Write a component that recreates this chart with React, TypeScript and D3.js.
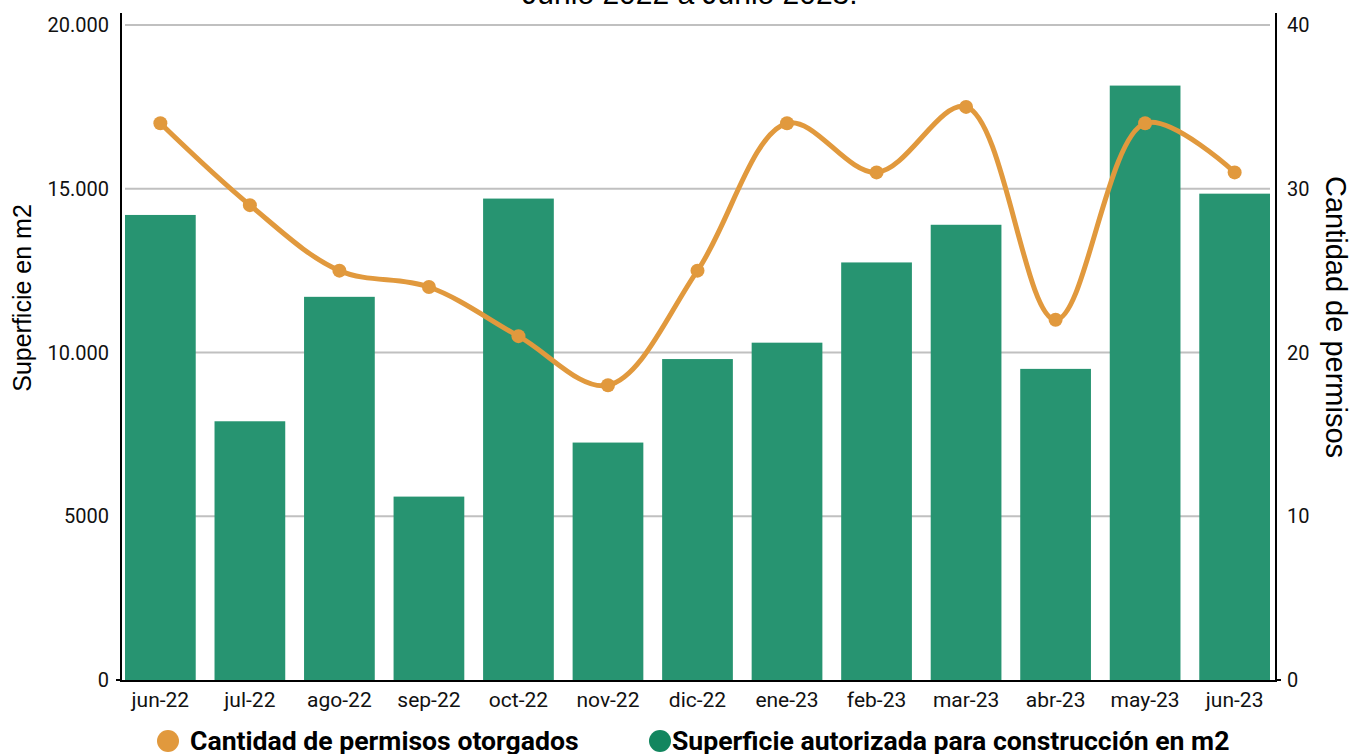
import * as d3 from 'd3'
import { useEffect, useRef } from 'react'

const months = ['jun-22', 'jul-22', 'ago-22', 'sep-22', 'oct-22', 'nov-22', 'dic-22', 'ene-23', 'feb-23', 'mar-23', 'abr-23', 'may-23', 'jun-23']
const superficie = [14200, 7900, 11700, 5600, 14700, 7250, 9800, 10300, 12750, 13900, 9500, 18150, 14850]
const permisos = [34, 29, 25, 24, 21, 18, 25, 34, 31, 35, 22, 34, 31]
const leftTicks = [0, 5000, 10000, 15000, 20000]
const leftTickLabels = ['0', '5000', '10.000', '15.000', '20.000']
const rightTicks = [0, 10, 20, 30, 40]

const GREEN = '#279471'
const ORANGE = '#E1993D'
const FONT = 'Roboto, sans-serif'
const ARIAL = '"Liberation Sans", Arial, sans-serif'

export default function App() {
  const ref = useRef<SVGSVGElement>(null)
  useEffect(() => {
    const width = 1362, height = 754
    const svg = d3.select(ref.current)
    svg.selectAll('*').remove()
    const left = 121, right = 1276, top = 25, bottom = 680

    const x = d3.scaleBand().domain(months).range([125, 1270]).paddingInner(0.21).paddingOuter(0)
    const yL = d3.scaleLinear().domain([0, 20000]).range([bottom, top])
    const yR = d3.scaleLinear().domain([0, 40]).range([bottom, top])

    // title (cut off at top, as in the source)
    svg.append('text').attr('x', 690).attr('y', 4).attr('text-anchor', 'middle')
      .attr('font-family', ARIAL).attr('font-size', 30).text('Junio 2022 a Junio 2023.')

    // grid
    svg.append('g').selectAll('line').data(leftTicks.slice(1)).enter().append('line')
      .attr('x1', left + 4).attr('x2', right - 6)
      .attr('y1', d => yL(d)).attr('y2', d => yL(d))
      .attr('stroke', '#c0c0c0').attr('stroke-width', 2)

    // bars
    svg.append('g').selectAll('rect').data(superficie).enter().append('rect')
      .attr('x', (d, i) => x(months[i]) as number).attr('width', x.bandwidth())
      .attr('y', d => yL(d)).attr('height', d => bottom - yL(d))
      .attr('fill', GREEN)

    // axes lines
    svg.append('line').attr('x1', left).attr('x2', left).attr('y1', 13).attr('y2', bottom + 2).attr('stroke', '#000').attr('stroke-width', 2)
    svg.append('line').attr('x1', right).attr('x2', right).attr('y1', 13).attr('y2', bottom + 2).attr('stroke', '#000').attr('stroke-width', 2)
    svg.append('line').attr('x1', left).attr('x2', right).attr('y1', bottom + 1).attr('y2', bottom + 1).attr('stroke', '#000').attr('stroke-width', 2)
    svg.append('line').attr('x1', left - 5).attr('x2', left).attr('y1', bottom).attr('y2', bottom).attr('stroke', '#000').attr('stroke-width', 2)
    svg.append('line').attr('x1', right).attr('x2', right + 5).attr('y1', bottom).attr('y2', bottom).attr('stroke', '#000').attr('stroke-width', 2)

    // left tick labels
    svg.append('g').selectAll('text').data(leftTicks).enter().append('text')
      .attr('x', 109).attr('y', d => yL(d)).attr('dy', '0.35em').attr('text-anchor', 'end')
      .attr('font-family', FONT).attr('font-size', 20).attr('fill', '#111')
      .text((d, i) => leftTickLabels[i])

    // right tick labels
    svg.append('g').selectAll('text').data(rightTicks).enter().append('text')
      .attr('x', 1287).attr('y', d => yR(d)).attr('dy', '0.35em').attr('text-anchor', 'start')
      .attr('font-family', FONT).attr('font-size', 20).attr('fill', '#111')
      .text(d => String(d))

    // x labels
    svg.append('g').selectAll('text').data(months).enter().append('text')
      .attr('x', d => (x(d) as number) + x.bandwidth() / 2).attr('y', 707).attr('text-anchor', 'middle')
      .attr('font-family', FONT).attr('font-size', 21).attr('fill', '#111')
      .text(d => d)

    // axis titles
    svg.append('text').attr('transform', 'translate(31,298) rotate(-90)').attr('text-anchor', 'middle')
      .attr('font-family', ARIAL).attr('font-size', 25).text('Superficie en m2')
    svg.append('text').attr('transform', 'translate(1326,317) rotate(90)').attr('text-anchor', 'middle')
      .attr('font-family', ARIAL).attr('font-size', 29).text('Cantidad de permisos')

    // line
    const cx = (i: number) => (x(months[i]) as number) + x.bandwidth() / 2
    const line = d3.line<number>().x((d, i) => cx(i)).y(d => yR(d)).curve(d3.curveCatmullRom.alpha(0.5))
    svg.append('path').datum(permisos).attr('d', line).attr('fill', 'none')
      .attr('stroke', ORANGE).attr('stroke-width', 5)
    svg.append('g').selectAll('circle').data(permisos).enter().append('circle')
      .attr('cx', (d, i) => cx(i)).attr('cy', d => yR(d)).attr('r', 7).attr('fill', ORANGE)

    // legend
    const lg = svg.append('g').attr('font-family', FONT).attr('font-weight', 'bold').attr('font-size', 26.6)
    lg.append('circle').attr('cx', 168).attr('cy', 741).attr('r', 11).attr('fill', ORANGE)
    lg.append('text').attr('x', 190).attr('y', 750).text('Cantidad de permisos otorgados')
    lg.append('circle').attr('cx', 660).attr('cy', 741).attr('r', 11).attr('fill', '#12865F')
    lg.append('text').attr('x', 672).attr('y', 750).text('Superficie autorizada para construcción en m2')

    svg.attr('width', width).attr('height', height)
  }, [])
  return <svg ref={ref} width={1362} height={754} style={{ display: 'block', position: 'absolute', left: 0, top: 0 }} />
}
